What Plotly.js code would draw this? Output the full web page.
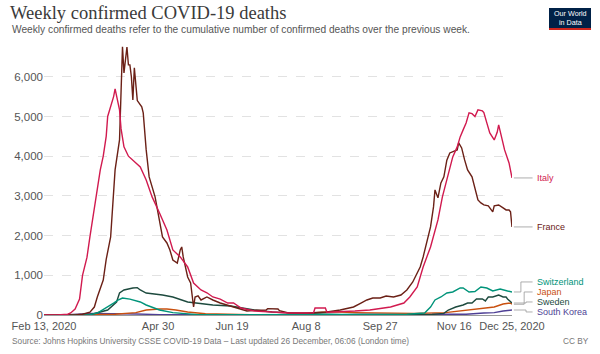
<!DOCTYPE html>
<html><head><meta charset="utf-8">
<script src="https://cdn.plot.ly/plotly-3.0.1.min.js"></script>
<style>html,body{margin:0;padding:0;background:#fff}#chart{width:600px;height:354px}</style>
</head><body><div id="chart"></div>
<script>
// ---- data (weekly confirmed deaths) ----
const italyDates = ['2020-02-13','2020-02-22','2020-02-29','2020-03-02','2020-03-05','2020-03-08','2020-03-10','2020-03-13','2020-03-15','2020-03-18','2020-03-20','2020-03-22','2020-03-24','2020-03-26','2020-03-27','2020-03-29','2020-03-31','2020-04-01','2020-04-02','2020-04-04','2020-04-05','2020-04-07','2020-04-10','2020-04-13','2020-04-16','2020-04-18','2020-04-22','2020-04-26','2020-05-01','2020-05-04','2020-05-06','2020-05-10','2020-05-15','2020-05-20','2020-05-24','2020-05-29','2020-06-02','2020-06-06','2020-06-11','2020-06-16','2020-06-20','2020-06-25','2020-07-01','2020-07-04','2020-07-16','2020-07-27','2020-08-09','2020-08-13','2020-08-14','2020-08-21','2020-08-22','2020-08-31','2020-09-10','2020-09-20','2020-10-04','2020-10-13','2020-10-17','2020-10-22','2020-10-26','2020-10-31','2020-11-05','2020-11-08','2020-11-11','2020-11-13','2020-11-15','2020-11-18','2020-11-20','2020-11-22','2020-11-24','2020-11-26','2020-11-28','2020-11-30','2020-12-02','2020-12-05','2020-12-06','2020-12-08','2020-12-10','2020-12-13','2020-12-15','2020-12-16','2020-12-18','2020-12-20','2020-12-23','2020-12-25'];
const italyDeaths = [0,0,20,50,150,400,1000,1450,1966,2700,3150,3654,4000,4500,5000,5250,5500,5695,5500,5166,4700,4234,4000,3906,3800,3730,3402,2974,2570,2300,2142,1638,1462,1210,806,630,560,454,400,302,302,176,126,100,76,50,50,55,176,176,70,76,100,126,202,302,454,706,1210,1714,2394,2974,3402,3654,3982,4234,4486,4662,4838,5090,5070,5000,5166,5140,5100,4838,4586,4410,4600,4788,4500,4158,3830,3452];

const franceDates = ['2020-02-13','2020-03-05','2020-03-10','2020-03-15','2020-03-18','2020-03-20','2020-03-24','2020-03-26','2020-03-29','2020-03-31','2020-04-01','2020-04-04','2020-04-06','2020-04-07','2020-04-09','2020-04-10','2020-04-11','2020-04-12','2020-04-13','2020-04-14','2020-04-16','2020-04-19','2020-04-20','2020-04-22','2020-04-24','2020-04-28','2020-05-01','2020-05-03','2020-05-06','2020-05-08','2020-05-10','2020-05-13','2020-05-15','2020-05-16','2020-05-17','2020-05-20','2020-05-22','2020-05-24','2020-05-25','2020-05-27','2020-05-29','2020-06-02','2020-06-06','2020-06-11','2020-06-20','2020-06-29','2020-07-05','2020-07-12','2020-07-13','2020-07-20','2020-07-21','2020-07-27','2020-08-09','2020-08-22','2020-08-31','2020-09-09','2020-09-14','2020-09-18','2020-09-22','2020-09-27','2020-10-01','2020-10-06','2020-10-11','2020-10-15','2020-10-19','2020-10-22','2020-10-24','2020-10-26','2020-10-29','2020-10-31','2020-11-02','2020-11-03','2020-11-05','2020-11-07','2020-11-09','2020-11-11','2020-11-13','2020-11-15','2020-11-18','2020-11-19','2020-11-21','2020-11-23','2020-11-25','2020-11-28','2020-11-30','2020-12-02','2020-12-04','2020-12-06','2020-12-09','2020-12-12','2020-12-13','2020-12-16','2020-12-19','2020-12-21','2020-12-23','2020-12-24','2020-12-25'];
const franceDeaths = [0,0,20,70,200,454,882,1400,1966,3150,3654,4410,6754,6098,6750,6300,6300,6000,5418,6224,5400,5242,5090,4158,3478,2974,2318,1966,1814,1638,1386,1310,1638,1714,1462,958,806,202,454,480,378,454,378,302,202,100,120,126,160,150,110,50,50,76,126,202,302,378,428,428,479,454,504,630,832,1058,1210,1462,1890,2218,2722,3150,2950,3326,3478,3900,4082,4120,4158,4334,4208,3906,3654,3478,3150,2898,2822,2772,2750,2596,2750,2772,2696,2646,2646,2600,2218];

const switzerlandDates = ['2020-02-13','2020-03-10','2020-03-15','2020-03-20','2020-03-27','2020-03-31','2020-04-03','2020-04-06','2020-04-11','2020-04-18','2020-04-22','2020-05-01','2020-05-10','2020-05-27','2020-07-01','2020-09-01','2020-10-15','2020-10-27','2020-10-31','2020-11-03','2020-11-07','2020-11-11','2020-11-15','2020-11-20','2020-11-22','2020-11-26','2020-11-30','2020-12-04','2020-12-08','2020-12-12','2020-12-17','2020-12-22','2020-12-25'];
const switzerlandDeaths = [0,0,10,50,202,300,378,428,400,328,252,126,60,10,5,5,20,50,200,378,454,554,580,680,680,580,590,706,680,605,655,605,580];

const swedenDates = ['2020-02-13','2020-03-15','2020-03-27','2020-04-02','2020-04-04','2020-04-07','2020-04-13','2020-04-16','2020-04-18','2020-04-22','2020-05-03','2020-05-10','2020-05-20','2020-05-27','2020-06-06','2020-06-18','2020-06-25','2020-07-04','2020-07-16','2020-08-04','2020-09-01','2020-10-01','2020-10-25','2020-11-01','2020-11-09','2020-11-12','2020-11-17','2020-11-22','2020-11-25','2020-11-28','2020-12-01','2020-12-05','2020-12-07','2020-12-09','2020-12-12','2020-12-16','2020-12-19','2020-12-21','2020-12-22','2020-12-24','2020-12-25'];
const swedenDeaths = [0,5,126,328,554,630,680,690,630,554,504,454,328,302,252,227,180,126,76,40,10,10,10,15,40,126,202,252,302,302,403,403,354,454,454,504,454,454,403,330,302];

const japanDates = ['2020-02-13','2020-03-15','2020-04-01','2020-04-15','2020-04-22','2020-05-01','2020-05-06','2020-05-12','2020-05-20','2020-06-01','2020-07-01','2020-07-25','2020-08-10','2020-08-25','2020-09-10','2020-10-01','2020-10-20','2020-11-10','2020-11-25','2020-12-04','2020-12-13','2020-12-19','2020-12-24','2020-12-25'];
const japanDeaths = [0,10,20,60,126,150,150,126,76,30,5,10,50,80,60,50,40,60,126,176,202,277,302,270];

const koreaDates = ['2020-02-13','2020-03-01','2020-03-15','2020-04-01','2020-04-15','2020-05-01','2020-06-15','2020-08-15','2020-09-01','2020-09-15','2020-10-15','2020-11-01','2020-11-24','2020-12-06','2020-12-13','2020-12-19','2020-12-25'];
const koreaDeaths = [0,10,40,40,25,10,5,5,10,20,15,10,20,50,60,100,126];

const seriesNames = ['South Korea','Japan','Sweden','Switzerland','France','Italy'];
const seriesDates = [koreaDates, japanDates, swedenDates, switzerlandDates, franceDates, italyDates];
const seriesValues = [koreaDeaths, japanDeaths, swedenDeaths, switzerlandDeaths, franceDeaths, italyDeaths];

const tickDates = ['2020-02-13','2020-04-30','2020-06-19','2020-08-08','2020-09-27','2020-11-16','2020-12-25'];
const tickLabels = ['Feb 13, 2020','Apr 30','Jun 19','Aug 8','Sep 27','Nov 16','Dec 25, 2020'];

// ---- styling (not data) ----
const colors = {'South Korea':'#4e3f95','Japan':'#c9500f','Sweden':'#1d4a3e','Switzerland':'#00947a','France':'#6b2016','Italy':'#d11a4f'};
// label vertical placement (value units) for the right-side labels
const labelPos = {'Italy':null,'France':null,'Switzerland':832,'Japan':580,'Sweden':328,'South Korea':76};

const traces = seriesNames.map((n,i)=>({
  type:'scatter', mode:'lines', name:n, x:seriesDates[i], y:seriesValues[i],
  line:{color:colors[n], width:1.4}, hoverinfo:'skip'
}));

const shapes = [];
const annotations = [];
const xEnd = 1.0, xLab = 1.05;
seriesNames.forEach((n,i)=>{
  const vals = seriesValues[i];
  const last = vals[vals.length-1];
  const ly = labelPos[n]===null ? last : labelPos[n];
  let path;
  if (ly === last) {
    path = `M ${xEnd+0.004},${last} L ${xLab-0.006},${ly}`;
  } else {
    const xm = n==='Switzerland' ? 1.019 : (n==='Japan' ? 1.026 : 1.03);
    path = `M ${xEnd+0.004},${last} L ${xm},${last} L ${xm},${ly} L ${xLab-0.006},${ly}`;
  }
  shapes.push({type:'path', xref:'paper', yref:'y', path:path, line:{color:'#999', width:0.8}});
  annotations.push({xref:'paper', yref:'y', x:xLab, y:ly, text:n, showarrow:false, xanchor:'left', yanchor:'middle',
    font:{family:'Liberation Sans, Arial, sans-serif', size:9, color:colors[n]}});
});

// subtitle, footer, logo
annotations.push({xref:'paper', yref:'paper', x:-34/468, y:(315-30)/270, xanchor:'left', yanchor:'middle', showarrow:false,
  text:'Weekly confirmed deaths refer to the cumulative number of confirmed deaths over the previous week.',
  font:{family:'Liberation Sans, Arial, sans-serif', size:10.2, color:'#555'}});
annotations.push({xref:'paper', yref:'paper', x:-34/468, y:(315-341)/270, xanchor:'left', yanchor:'middle', showarrow:false,
  text:'Source: Johns Hopkins University CSSE COVID-19 Data – Last updated 26 December, 06:06 (London time)',
  font:{family:'Liberation Sans, Arial, sans-serif', size:8.3, color:'#777'}});
annotations.push({xref:'paper', yref:'paper', x:(591-44)/468, y:(315-341)/270, xanchor:'right', yanchor:'middle', showarrow:false,
  text:'CC BY', font:{family:'Liberation Sans, Arial, sans-serif', size:8.3, color:'#777'}});
shapes.push({type:'rect', xref:'paper', yref:'paper', x0:(549-44)/468, x1:(591-44)/468, y0:(315-30)/270, y1:(315-8)/270,
  fillcolor:'#002147', line:{width:0}});
shapes.push({type:'rect', xref:'paper', yref:'paper', x0:(549-44)/468, x1:(591-44)/468, y0:(315-30)/270, y1:(315-28)/270,
  fillcolor:'#ce261e', line:{width:0}});
annotations.push({xref:'paper', yref:'paper', x:(570-44)/468, y:(315-18)/270, xanchor:'center', yanchor:'middle', showarrow:false,
  text:'Our World<br>in Data', font:{family:'Liberation Sans, Arial, sans-serif', size:7.2, color:'#fff'}});

const layout = {
  width:600, height:354,
  margin:{l:44, r:88, t:45, b:39},
  paper_bgcolor:'#fff', plot_bgcolor:'#fff',
  showlegend:false, hovermode:false,
  title:{text:'Weekly confirmed COVID-19 deaths', x:10/600, xanchor:'left', y:1-13/354, yanchor:'middle',
    font:{family:'Liberation Serif, Times New Roman, serif', size:18.5, color:'#3a3a3a'}},
  xaxis:{type:'date', range:['2020-02-13','2020-12-25'], tickvals:tickDates, ticktext:tickLabels,
    showgrid:false, zeroline:false, showline:false, ticks:'', ticklen:0, ticklabelstandoff:3,
    tickfont:{family:'Liberation Sans, Arial, sans-serif', size:11, color:'#555'}, fixedrange:true},
  yaxis:{range:[0,6800], tickvals:[0,1000,2000,3000,4000,5000,6000], tickformat:',',
    showgrid:true, gridcolor:'#e2e2e2', griddash:'dash', gridwidth:1,
    zeroline:true, zerolinecolor:'#9a9a9a', zerolinewidth:1, showline:false, ticks:'',
    tickfont:{family:'Liberation Sans, Arial, sans-serif', size:11.5, color:'#555'}, fixedrange:true},
  shapes:shapes, annotations:annotations
};

Plotly.newPlot('chart', traces, layout, {displayModeBar:false, staticPlot:true});
</script>
</body></html>
